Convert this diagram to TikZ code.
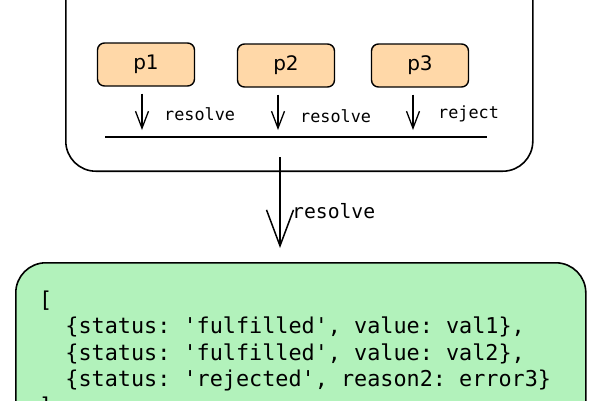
\documentclass[tikz,border=0pt]{standalone}
\usepackage{fontspec}
\setmainfont{DejaVu Sans}
\setmonofont{DejaVu Sans Mono}
\usepackage{tikz}
\usetikzlibrary{arrows.meta,positioning}
\definecolor{promfill}{HTML}{FFD8A8}
\definecolor{resfill}{HTML}{B2F2BB}
\newcommand{\ind}{\phantom{xx}}

\begin{document}
\begin{tikzpicture}[x=1pt, y=-1pt, prom/.style={draw, fill=promfill, rounded corners=7pt, line width=1.4pt, minimum width=97pt, minimum height=43pt, font=\fontsize{20}{23}\selectfont}, lbl/.style={font=\ttfamily\fontsize{16.8}{19}\selectfont, anchor=base west, inner sep=0pt}, small/.style={->, line width=1.3pt, shorten <=7pt, shorten >=7pt}, >={Straight Barb[length=17pt, width=13pt]}]
            \useasboundingbox (0,0) rectangle (600,400);
            \node[draw, rounded corners=30pt, line width=1.6pt, minimum width=467pt, minimum height=232pt, anchor=south west] (grp) at (65,172) {};
            \node[prom] (p1) at (146,64.5) {p1};
            \node[prom] (p2) at (286,65.5) {p2};
            \node[prom] (p3) at (420,65.5) {p3};
            \coordinate (la) at (105,137);
            \coordinate (lb) at (487,137);
            \draw[line width=1.8pt] (la) -- (lb);
            \coordinate (a1) at (142,137);
            \coordinate (a2) at (278,137);
            \coordinate (a3) at (413,137);
            \coordinate (m) at (280,137);
            \draw[small] (p1.south -| a1) -- (a1);
            \draw[small] (p2.south -| a2) -- (a2);
            \draw[small] (p3.south -| a3) -- (a3);
            \node[lbl] (r1) at (164,120) {resolve};
            \node[lbl] (r2) at (300,122) {resolve};
            \node[lbl] (r3) at (438,118) {reject};
            \node[draw, fill=resfill, rounded corners=30pt, line width=1.6pt, minimum width=570pt, minimum height=210pt, anchor=north west] (res) at (15,262) {};
            \draw[->, >={Straight Barb[length=36pt, width=27pt]}, line width=1.5pt, shorten <=20pt, shorten >=14pt] (m) -- (m |- res.north);
            \node[lbl, font=\ttfamily\fontsize{19.7}{22}\selectfont] (r4) at (292,218) {resolve};
            \node[anchor=base west, align=left, inner sep=0pt, font=\ttfamily\fontsize{21.8}{26.5}\selectfont] (code) at (39,413) {[\\
\ind\{status: \textquotesingle fulfilled\textquotesingle, value: val1\},\\
\ind\{status: \textquotesingle fulfilled\textquotesingle, value: val2\},\\
\ind\{status: \textquotesingle rejected\textquotesingle, reason2: error3\}\\
]};
        \end{tikzpicture}
\end{document}
